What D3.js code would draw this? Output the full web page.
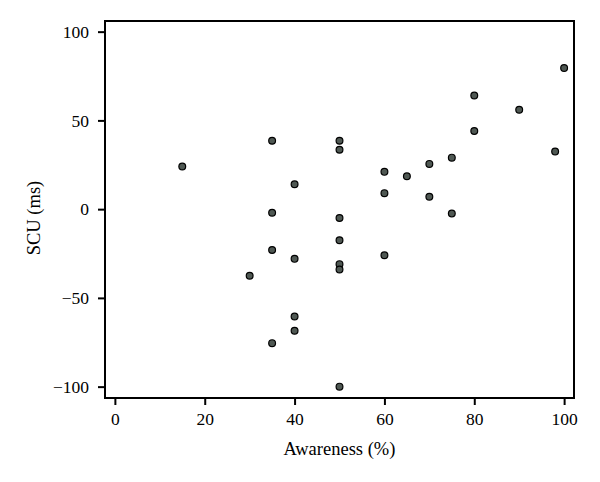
<!DOCTYPE html>
<html>
<head>
<meta charset="utf-8">
<script src="https://cdn.jsdelivr.net/npm/d3@7"></script>
<style>
  body { margin: 0; background: #fff; }
  text { font-family: "Liberation Serif", "DejaVu Serif", serif; }
</style>
</head>
<body>
<div id="chart"></div>
<script>

// awareness (%) and SCU (ms)
const awareness = [15, 35, 40, 35, 100, 80, 90, 80, 50, 50, 98, 75, 70, 60, 65, 60, 70, 75, 50, 50,
                   35, 40, 30, 40, 40, 35, 60, 50, 50, 50];
const scu = [24, 38.5, 14, -2, 79.5, 64, 56, 44, 38.5, 33.5, 32.5, 29, 25.5, 21, 18.5, 9, 7, -2.5, -5, -17.5,
             -23, -28, -37.5, -60.5, -68.5, -75.5, -26, -31, -34, -100];
const xTicks = [0, 20, 40, 60, 80, 100];
const yTicks = [-100, -50, 0, 50, 100];

let points = awareness.map((d, i) => ({x: d, y: scu[i]}));

let margin = {top: 21, right: 26, bottom: 84, left: 105};
let width = 600 - margin.left - margin.right;
let height = 482 - margin.top - margin.bottom;

let svg = d3.select("#chart").append("svg")
    .attr("width", 600)
    .attr("height", 482)
    .append("g")
    .attr("transform", `translate(${margin.left}, ${margin.top})`);

let x = d3.scaleLinear().domain([-2.2, 102.2]).range([0, width]);
let y = d3.scaleLinear().domain([-106.4, 106]).range([height, 0]);

// axes
let xAxis = svg.append("g")
    .attr("transform", `translate(0, ${height})`)
    .call(d3.axisBottom(x).tickValues(xTicks).tickSize(7).tickPadding(8).tickSizeOuter(0));

let yAxis = svg.append("g")
    .call(d3.axisLeft(y).tickValues(yTicks).tickSize(7).tickPadding(9).tickSizeOuter(0)
        .tickFormat(d => d < 0 ? "\u2212" + Math.abs(d) : d));

[xAxis, yAxis].forEach(a => {
    a.select(".domain").remove();
    a.selectAll("line").attr("stroke", "#000").attr("stroke-width", 2);
    a.selectAll("text").attr("fill", "#000").style("font-size", "17.5px");
});

// frame
svg.append("rect")
    .attr("width", width)
    .attr("height", height)
    .attr("fill", "none")
    .attr("stroke", "#000")
    .attr("stroke-width", 2);

svg.selectAll("circle")
    .data(points)
    .enter().append("circle")
    .attr("cx", d => x(d.x))
    .attr("cy", d => y(d.y))
    .attr("r", 3.4)
    .attr("fill", "#4f5853")
    .attr("stroke", "#000")
    .attr("stroke-width", 1.2);

// axis titles
svg.append("text")
    .attr("x", width / 2)
    .attr("y", height + 57)
    .attr("text-anchor", "middle")
    .style("font-size", "18.5px")
    .text("Awareness (%)");

svg.append("text")
    .attr("transform", `translate(${-65}, ${197}) rotate(-90)`)
    .attr("text-anchor", "middle")
    .style("font-size", "18.5px")
    .text("SCU (ms)");

</script>
</body>
</html>
